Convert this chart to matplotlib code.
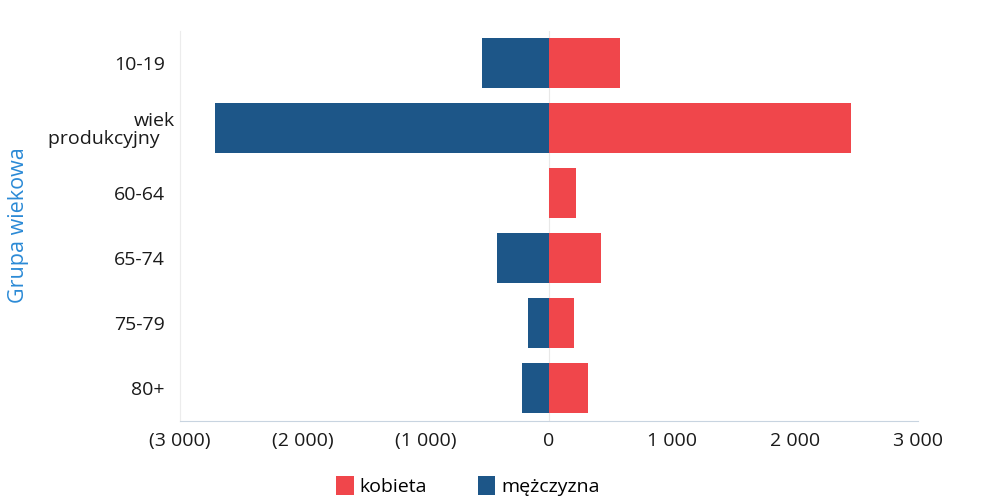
import numpy as np
import matplotlib.pyplot as plt
from matplotlib.transforms import offset_copy

# dane
grupy = ["10-19", "wiek produkcyjny", "60-64", "65-74", "75-79", "80+"]
kobieta = [577, 2455, 220, 423, 203, 317]
mezczyzna = [-545, -2715, 0, -423, -171, -220]
ticki = [-3000, -2000, -1000, 0, 1000, 2000, 3000]
etykiety = ["(3 000)", "(2 000)", "(1 000)", "0", "1 000", "2 000", "3 000"]

kolor_k = "#f0464b"
kolor_m = "#1d5688"

plt.rcParams['font.family'] = ['Open Sans', 'DejaVu Sans']

fig = plt.figure(figsize=(10.05, 5), dpi=100)
ax = fig.add_axes([180 / 1005, 1 - 420.5 / 500, 738 / 1005, 390 / 500])

y = np.arange(len(grupy))
ax.barh(y, kobieta, height=0.76, color=kolor_k, label="kobieta")
ax.barh(y, mezczyzna, height=0.76, color=kolor_m, label="mężczyzna")

ax.set_xlim(-3000, 3000)
ax.set_ylim(len(grupy) - 0.5, -0.5)
ax.tick_params(length=0)
ax.tick_params(axis="y", pad=11)
ax.tick_params(axis="x", pad=8)

# etykiety osi y - "wiek produkcyjny" w dwóch liniach, jak w oryginale
opisy_y = [g.replace(" ", "\n") + ("   " if " " in g else "") for g in grupy]
ax.set_yticks(y)
ax.set_yticklabels(opisy_y, fontsize=14, color="#1a1a1a", linespacing=1.0)
for t in ax.get_yticklabels():
    t.set_multialignment("right")
    if "\n" in t.get_text():
        t.set_transform(offset_copy(t.get_transform(), fig=fig, x=10, y=0, units="dots"))
ax.set_xticks(ticks=ticki)
ax.set_xticklabels(etykiety, fontsize=14, color="#1a1a1a")

ax.axvline(0, color="#e8e8e8", lw=0.8, zorder=0)
for s in ["top", "right"]:
    ax.spines[s].set_visible(False)
ax.spines["left"].set_color("#ececec")
ax.spines["bottom"].set_color("#c8d4e0")

ax.set_ylabel("Grupa wiekowa", fontsize=15.5, color="#2b8ad6")
ax.yaxis.set_label_coords((29 - 180) / 738, 0.5)

ax.legend(loc="upper center", bbox_to_anchor=(0.39, -0.098), ncol=2, frameon=False,
          fontsize=14, handlelength=0.9, handleheight=1.1, handletextpad=0.3,
          columnspacing=2.6)

plt.savefig("out.png", dpi=100)
